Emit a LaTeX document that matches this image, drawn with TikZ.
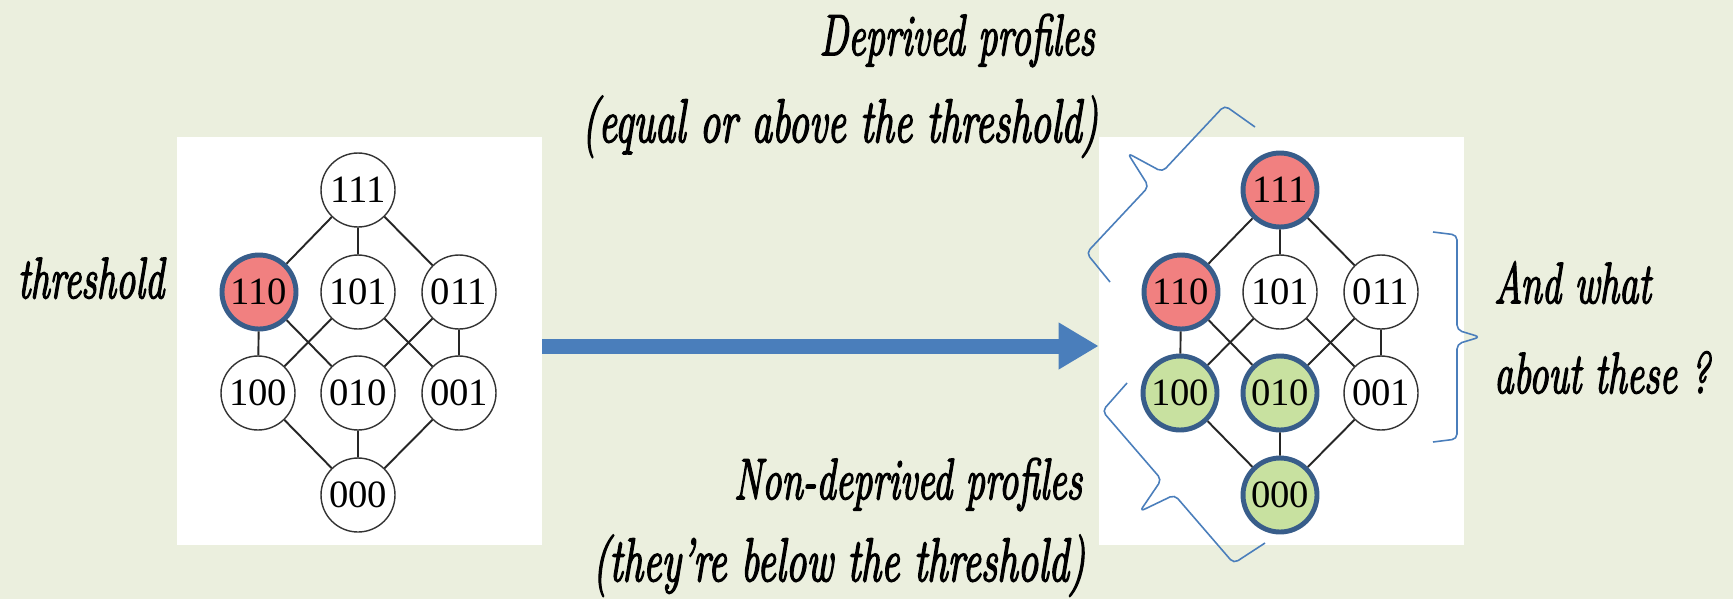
\documentclass[tikz,border=0pt]{standalone}
\usepackage{fontspec}
\usepackage{tikz}
\usetikzlibrary{arrows.meta, arrows}
\usepackage{xcolor}

\newfontfamily\numfont{Liberation Serif}
\newfontfamily\handfont{Latin Modern Roman}[FakeBold=3, Ligatures=TeX]
\newcommand{\stretched}[1]{\scalebox{1}[1.5]{#1}}
\definecolor{bgcol}{RGB}{235,239,222}
\definecolor{hotfill}{RGB}{241,128,128}
\definecolor{coldfill}{RGB}{200,225,160}
\definecolor{ringblue}{RGB}{56,93,138}
\definecolor{lineblue}{RGB}{74,126,187}

\begin{document}
\begin{tikzpicture}[x=0.02cm, y=-0.02cm,
        panel/.style={fill=white, draw=none, inner sep=0pt, minimum width=7.3cm, minimum height=8.16cm},
        vertex/.style={circle, draw=black!80, line width=0.8pt, fill=white, minimum size=1.48cm, inner sep=0pt, font=\numfont\fontsize{22}{22}\selectfont},
        hot/.style={vertex, fill=hotfill, draw=ringblue, line width=2.8pt},
        cold/.style={vertex, fill=coldfill, draw=ringblue, line width=2.8pt},
        edge/.style={line width=1.1pt, black!85},
        hand/.style={font=\handfont\itshape\fontsize{22}{22}\selectfont},
        handwide/.style={font=\handfont\itshape\fontsize{23.3}{23.3}\selectfont},
        bracket/.style={lineblue, line width=0.9pt, rounded corners=0.1cm}]

        % Background
        \fill[bgcol] (0,0) rectangle (1733,599);
        \useasboundingbox (0,0) rectangle (1733,599);

        % White panels
        \node[panel] (leftpanel) at (359.5,341) {};
        \node[panel] (rightpanel) at (1281.5,341) {};

        % Left lattice, threshold at 110
        \node[vertex] (L111) at (358,190) {111};
        \node[hot] (L110) at (259,292) {110};
        \node[vertex] (L101) at (358,292) {101};
        \node[vertex] (L011) at (459,292) {011};
        \node[vertex] (L100) at (258,393) {100};
        \node[vertex] (L010) at (358,393) {010};
        \node[vertex] (L001) at (459,393) {001};
        \node[vertex] (L000) at (358,495) {000};

        % Right lattice, profiles split by the threshold
        \node[hot] (R111) at (1280,190) {111};
        \node[hot] (R110) at (1181,292) {110};
        \node[vertex] (R101) at (1280,292) {101};
        \node[vertex] (R011) at (1381,292) {011};
        \node[cold] (R100) at (1180,393) {100};
        \node[cold] (R010) at (1280,393) {010};
        \node[vertex] (R001) at (1381,393) {001};
        \node[cold] (R000) at (1280,495) {000};

        % Edges of both lattices
        \foreach \g in {L,R} {
                \draw[edge] (\g111) -- (\g110) (\g111) -- (\g101) (\g111) -- (\g011);
                \draw[edge] (\g110) -- (\g100) (\g110) -- (\g010);
                \draw[edge] (\g101) -- (\g100) (\g101) -- (\g001);
                \draw[edge] (\g011) -- (\g010) (\g011) -- (\g001);
                \draw[edge] (\g100) -- (\g000) (\g010) -- (\g000) (\g001) -- (\g000);
        }

        % Big arrow between the panels
        \draw[lineblue, line width=0.3cm, -{Triangle[length=0.8cm, width=0.88cm]}] ([yshift=-0.1cm]leftpanel.east) -- ([yshift=-0.1cm]rightpanel.west);

        % Braces
        \draw[bracket] (1255,127) -- (1224.6,105.4) -- (1162.3,171.9) -- (1127.7,153.2) -- (1148.7,186.5) -- (1086.4,253) -- (1110,282); % deprived
        \draw[bracket] (1265,543) -- (1233.7,563.4) -- (1174.5,494.8) -- (1139.9,511.4) -- (1161.5,479.6) -- (1102.3,411) -- (1127,383); % non-deprived
        \draw[bracket] (1433,232) -- (1457,235) -- (1457,330) -- (1480,337) -- (1457,344) -- (1457,439) -- (1433,442); % undecided

        % Labels
        \node[hand, anchor=base] (deprived) at (957,55) {\stretched{Deprived profiles}};
        \node[handwide, anchor=base] (deprivednote) at (840,142) {\stretched{(equal or above the threshold)}};
        \node[hand, anchor=base] (threshold) at (91,298) {\stretched{threshold}};
        \node[hand, anchor=base] (nondeprived) at (908,499) {\stretched{Non-deprived profiles}};
        \node[handwide, anchor=base] (nondeprivednote) at (839,581) {\stretched{(they're below the threshold)}};
        \node[hand, anchor=base west] (whatA) at (1488,303) {\stretched{And what}};
        \node[hand, anchor=base west] (whatB) at (1488,393) {\stretched{about these ?}};
    \end{tikzpicture}
\end{document}
